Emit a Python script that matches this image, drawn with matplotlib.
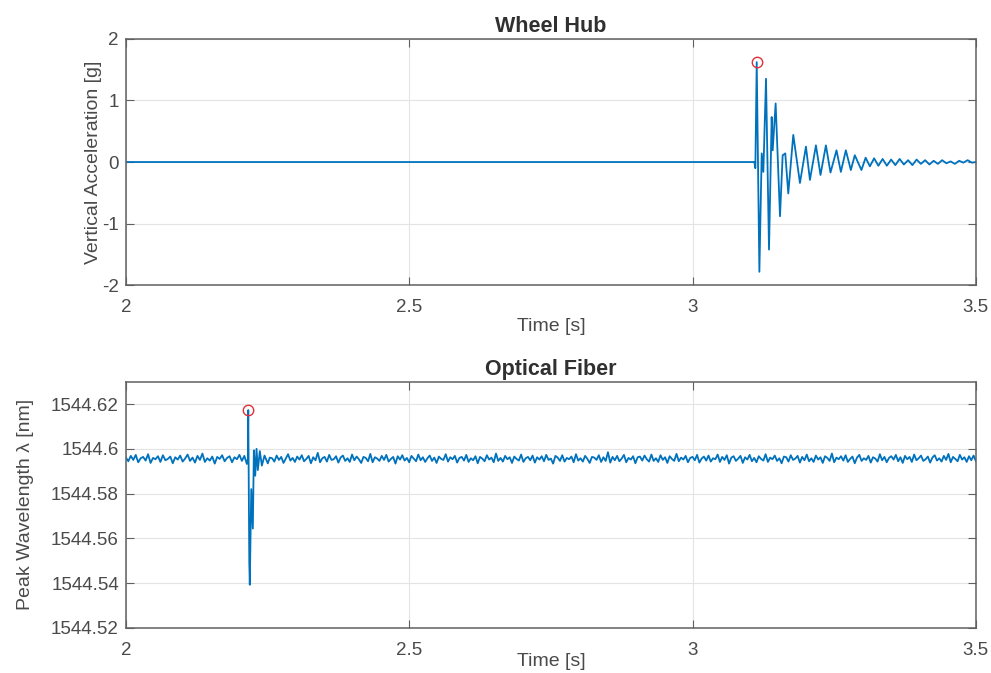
import numpy as np
import matplotlib
matplotlib.use("Agg")
import matplotlib.pyplot as plt

plt.rcParams['font.family'] = ['Liberation Sans', 'DejaVu Sans']
plt.rcParams['axes.unicode_minus'] = False

# --- Wheel hub accelerometer (g) ---
hub_t = [2.0, 3.1092, 3.1109, 3.1133, 3.1180, 3.1221, 3.1250, 3.1297, 3.1350,
         3.1397, 3.1415, 3.1467, 3.1544, 3.1591, 3.1637, 3.1690, 3.1778, 3.1896,
         3.2002, 3.2072, 3.2178, 3.2259, 3.2354, 3.2435, 3.2541, 3.2618, 3.2706,
         3.2794, 3.2864, 3.2981, 3.3055, 3.3130, 3.3205, 3.3280, 3.3355, 3.3430,
         3.3505, 3.3580, 3.3655, 3.3730, 3.3805, 3.3880, 3.3955, 3.4030, 3.4105,
         3.4180, 3.4255, 3.4330, 3.4405, 3.4480, 3.4555, 3.4630, 3.4705, 3.4780,
         3.4855, 3.4930, 3.5]
hub_acc = [0.0, 0.0, -0.10, 1.62, -1.78, 0.14, -0.16, 1.35, -1.42,
           0.73, 0.19, 0.95, -0.88, 0.11, 0.14, -0.51, 0.44, -0.34,
           0.25, -0.29, 0.27, -0.21, 0.27, -0.17, 0.19, -0.16, 0.19,
           -0.13, 0.11, -0.13, 0.07, -0.07, 0.06, -0.06, 0.05, -0.06,
           0.04, -0.05, 0.05, -0.04, 0.03, -0.05, 0.04, -0.03, 0.03,
           -0.04, 0.02, -0.03, 0.03, -0.02, 0.01, -0.03, 0.02, -0.01,
           0.03, -0.01, 0.0]
hub_peak_t, hub_peak = 3.1133, 1.62

# --- Optical fiber FBG peak wavelength (nm) ---
fiber_base = 1544.5955
noise_unit = 1.5e-4  # nm per noise step
fiber_noise = [
    4, -7, 9, -3, 12, -10, 2, 6, -5, 14, -12, 3, -1, 8, -9, 11, -4, 0, 7, -13,
    5, -2, 10, -8, 1, 13, -6, 4, -11, 9, -3, 16, -9, 2, -5, 7, -14, 6, 0, 11,
    -7, 3, 8, -10, 5, -1, 12, -6, 9, -15, 4, 2, -8, 10, -3, 6, -12, 1, 14, -5,
    3, -9, 7, -2, 11, -7, 0, 9, -13, 5, -4, 18, -10, 2, 6, -8, 12, -3, -1, 8,
    -11, 4, 10, -6, 2, -9, 13, -4, 7, -1, -12, 6, 3, -7, 15, -10, 5, 1, -6, 9,
    -3, 12, -8, 0, 6, -14, 8, -2, 11, -5, 3, -10, 9, 1, -7, 13, -4, 5, -9, 2,
    10, -6, 4, -12, 7, 0, -3, 14, -8, 5, -1, 9, -11, 3, 6, -5, 12, -9, 2, -4,
    8, -13, 6, 1, -7, 11, -2, 4, -10, 16, -6, 3, -8, 9, -1, 5, -12, 7, 0, -5,
    13, -9, 2, 6, -4, 10, -11, 5, -2, 8, -7, 12, -3, 1, -14, 9, 4, -6, 11, -8,
    3, -1, 7, -10, 14, -5, 2, -8, 9, 0, -12, 6, 4, -3, 11, -9, 5, -6, 20, -11,
    6, -4, 9, -7, 1, 12, -10, 3, -2, 8, -13, 5, 7, -5, 10, -1, -8, 13, -6, 2,
    -9, 11, -3, 5, -12, 8, 0, -6, 15, -7, 4, -2, 9, -10, 3, 6, -4, 12, -11, 1,
    7, -5, 10, -8, 2, -1, 13, -9, 6, -3, 11, -14, 4, 8, -6, 1, 9, -12, 5, -2,
    12, -7, 3, -10, 8, 0, -5, 14, -9, 4, -1, 10, -6, 2, -13, 7, 5, -8, 11, -3,
    1, 9, -11, 6, -4, 13, -7, 2, -9, 10, -2, 5, -12, 8, 3, -6, 16, -10, 4, -1,
    8, -5, 11, -9, 0, 7, -13, 4, 12, -6, 2, -3, 9, -11, 5, 1, -8, 14, -4, 6,
    -10, 3, 8, -2, 12, -7, 5, -12, 9, -1, 6, -9, 13, -4, 2, 10, -6, -1, 7, -11,
    4, 11, -5, 2, -8, 9, -3, 15, -10, 6, 0, -7, 12, -2, 5, -9, 8, -4, 10, -6,
]
n_pre = 50
# impact transient
spike_t = [2.2153, 2.2160, 2.2178, 2.2187, 2.2213, 2.2241, 2.2259, 2.2283,
           2.2306, 2.2329, 2.2364, 2.2400, 2.2447, 2.2505]
spike_wl = [1544.5955, 1544.6173, 1544.5496, 1544.5393, 1544.5820, 1544.5644,
            1544.5993, 1544.5880, 1544.6000, 1544.5905, 1544.5990, 1544.5925,
            1544.5970, 1544.5935]
fiber_peak_t, fiber_peak = 2.2160, 1544.6173

# build the fiber trace
noise = fiber_base + np.array(fiber_noise) * noise_unit
t_pre = np.linspace(2.0, 2.2135, n_pre)
t_post = np.linspace(2.254, 3.5, len(fiber_noise) - n_pre)
fiber_t = np.concatenate([t_pre, spike_t, t_post])
fiber_wl = np.concatenate([noise[:n_pre], spike_wl, noise[n_pre:]])

line_col = '#0072BD'
txt_col = '#4a4a4a'
ax_col = '#606060'


def style_axes(ax):
    ax.grid(True, color='#e4e4e4', linewidth=0.8)
    ax.set_axisbelow(True)
    ax.tick_params(direction='in', top=True, right=True, colors=ax_col,
                   labelcolor=txt_col, labelsize=13.5, length=6, width=0.8)
    ax.tick_params(axis='x', pad=10)
    ax.tick_params(axis='y', pad=5)
    for s in ax.spines.values():
        s.set_color(ax_col)
        s.set_linewidth(1.1)


fig = plt.figure(figsize=(9.91, 6.73), dpi=100)

ax1 = fig.add_axes([0.127, 0.576, 0.8577, 0.3665])
ax1.plot(hub_t, hub_acc, color=line_col, linewidth=1.3)
ax1.plot(hub_peak_t, hub_peak, 'o', mfc='none', mec='#e0303a', ms=7.5, mew=1.0)
ax1.set_xlim(2, 3.5)
ax1.set_ylim(-2, 2)
ax1.set_xticks([2, 2.5, 3, 3.5])
ax1.set_xticklabels(['2', '2.5', '3', '3.5'])
ax1.set_yticks([-2, -1, 0, 1, 2])
ax1.set_title('Wheel Hub', fontsize=15.5, fontweight='bold', color='#303030', pad=5)
ax1.set_xlabel('Time [s]', fontsize=14, color=txt_col, labelpad=1)
ax1.set_ylabel('Vertical Acceleration [g]', fontsize=14, color=txt_col, labelpad=0)
style_axes(ax1)

ax2 = fig.add_axes([0.127, 0.0669, 0.8577, 0.3660])
ax2.plot(fiber_t, fiber_wl, color=line_col, linewidth=1.3)
ax2.plot(fiber_peak_t, fiber_peak, 'o', mfc='none', mec='#e0303a', ms=7.5, mew=1.0)
ax2.set_xlim(2, 3.5)
ax2.set_ylim(1544.52, 1544.63)
ax2.set_xticks([2, 2.5, 3, 3.5])
ax2.set_xticklabels(['2', '2.5', '3', '3.5'])
ax2.set_yticks([1544.52, 1544.54, 1544.56, 1544.58, 1544.6, 1544.62])
ax2.set_yticklabels(['1544.52', '1544.54', '1544.56', '1544.58', '1544.6', '1544.62'])
ax2.set_title('Optical Fiber', fontsize=15.5, fontweight='bold', color='#303030', pad=5)
ax2.set_xlabel('Time [s]', fontsize=14, color=txt_col, labelpad=-4)
ax2.set_ylabel('Peak Wavelength λ [nm]', fontsize=14, color=txt_col, labelpad=12)
style_axes(ax2)

fig.savefig('out.png', dpi=100)
